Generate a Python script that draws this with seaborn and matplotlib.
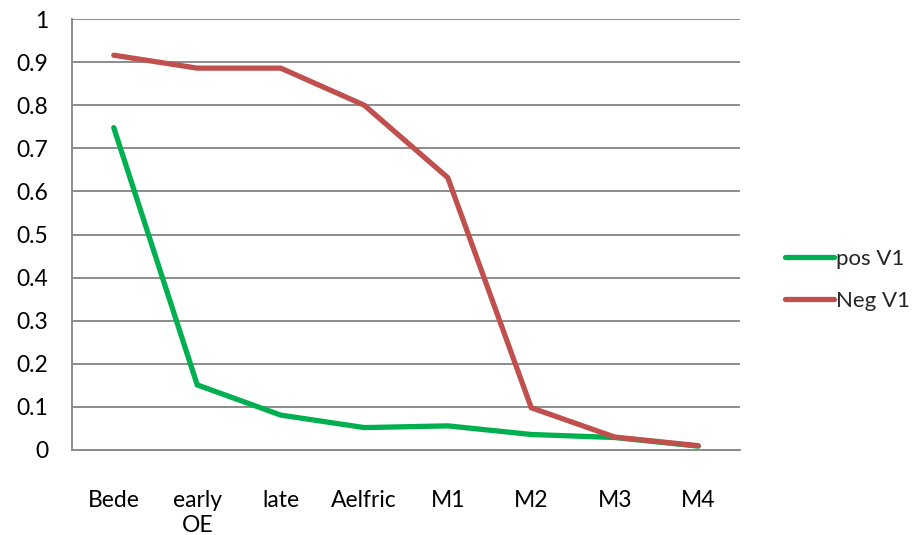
import matplotlib
matplotlib.use("Agg")
import matplotlib.pyplot as plt
from matplotlib.lines import Line2D
import seaborn as sns
import pandas as pd
import numpy as np

categories = ["Bede", "early\nOE", "late", "Aelfric", "M1", "M2", "M3", "M4"]
pos_v1 = [0.748, 0.151, 0.081, 0.052, 0.056, 0.036, 0.029, 0.009]
neg_v1 = [0.916, 0.886, 0.886, 0.800, 0.632, 0.098, 0.030, 0.010]
series_names = ["pos V1", "Neg V1"]
series_colors = ["#00B050", "#C0504D"]
y_ticks = [0, 0.1, 0.2, 0.3, 0.4, 0.5, 0.6, 0.7, 0.8, 0.9, 1]
y_tick_labels = ["0", "0.1", "0.2", "0.3", "0.4", "0.5", "0.6", "0.7", "0.8", "0.9", "1"]

sns.set_theme(style="white")
plt.rcParams["font.family"] = ["Lato", "DejaVu Sans"]

df = pd.DataFrame({
    "pos": list(range(len(categories))) * 2,
    "value": pos_v1 + neg_v1,
    "series": [series_names[0]] * len(categories) + [series_names[1]] * len(categories),
})

fig = plt.figure(figsize=(9.18, 5.35), dpi=100)
ax = fig.add_axes([72 / 918, 1 - 450 / 535, (740 - 72) / 918, (450 - 19) / 535])

sns.lineplot(data=df, x="pos", y="value", hue="series", hue_order=series_names,
             palette=series_colors, linewidth=3.8, ax=ax, legend=False,
             sort=False)
for line in ax.lines:
    line.set_solid_capstyle("round")
    line.set_solid_joinstyle("miter")

ax.set_xlim(-0.5, len(categories) - 0.5)
ax.set_ylim(0, 1)
ax.set_yticks(y_ticks)
ax.set_yticklabels(y_tick_labels)
ax.yaxis.grid(True, color="#8c8c8c", linewidth=1.4)
ax.set_axisbelow(True)

ax.set_xticks(range(len(categories)))
ax.set_xticklabels(categories)
ax.set_xticks(np.arange(-0.5, len(categories), 1.0), minor=True)
ax.tick_params(axis="x", which="major", length=0, pad=29, labelsize=16.5, colors="black")
ax.tick_params(axis="x", which="minor", length=7, width=1.4, color="#8c8c8c", direction="out")
ax.tick_params(axis="y", which="major", length=7, width=1.4, direction="out",
               pad=10, labelsize=16.5, labelcolor="black", color="#8c8c8c")

for side in ["top", "right"]:
    ax.spines[side].set_visible(False)
for side in ["left", "bottom"]:
    ax.spines[side].set_color("#8c8c8c")
    ax.spines[side].set_linewidth(1.4)
ax.set_xlabel("")
ax.set_ylabel("")

handles = [Line2D([0], [0], color=c, linewidth=3.8, solid_capstyle="round") for c in series_colors]
fig.legend(handles, series_names, loc="center left", bbox_to_anchor=(776 / 918, 1 - 280 / 535),
           frameon=False, fontsize=16, handlelength=2.2, handletextpad=0.1,
           labelspacing=1.0, borderaxespad=0)

fig.savefig("out.png", dpi=100)
